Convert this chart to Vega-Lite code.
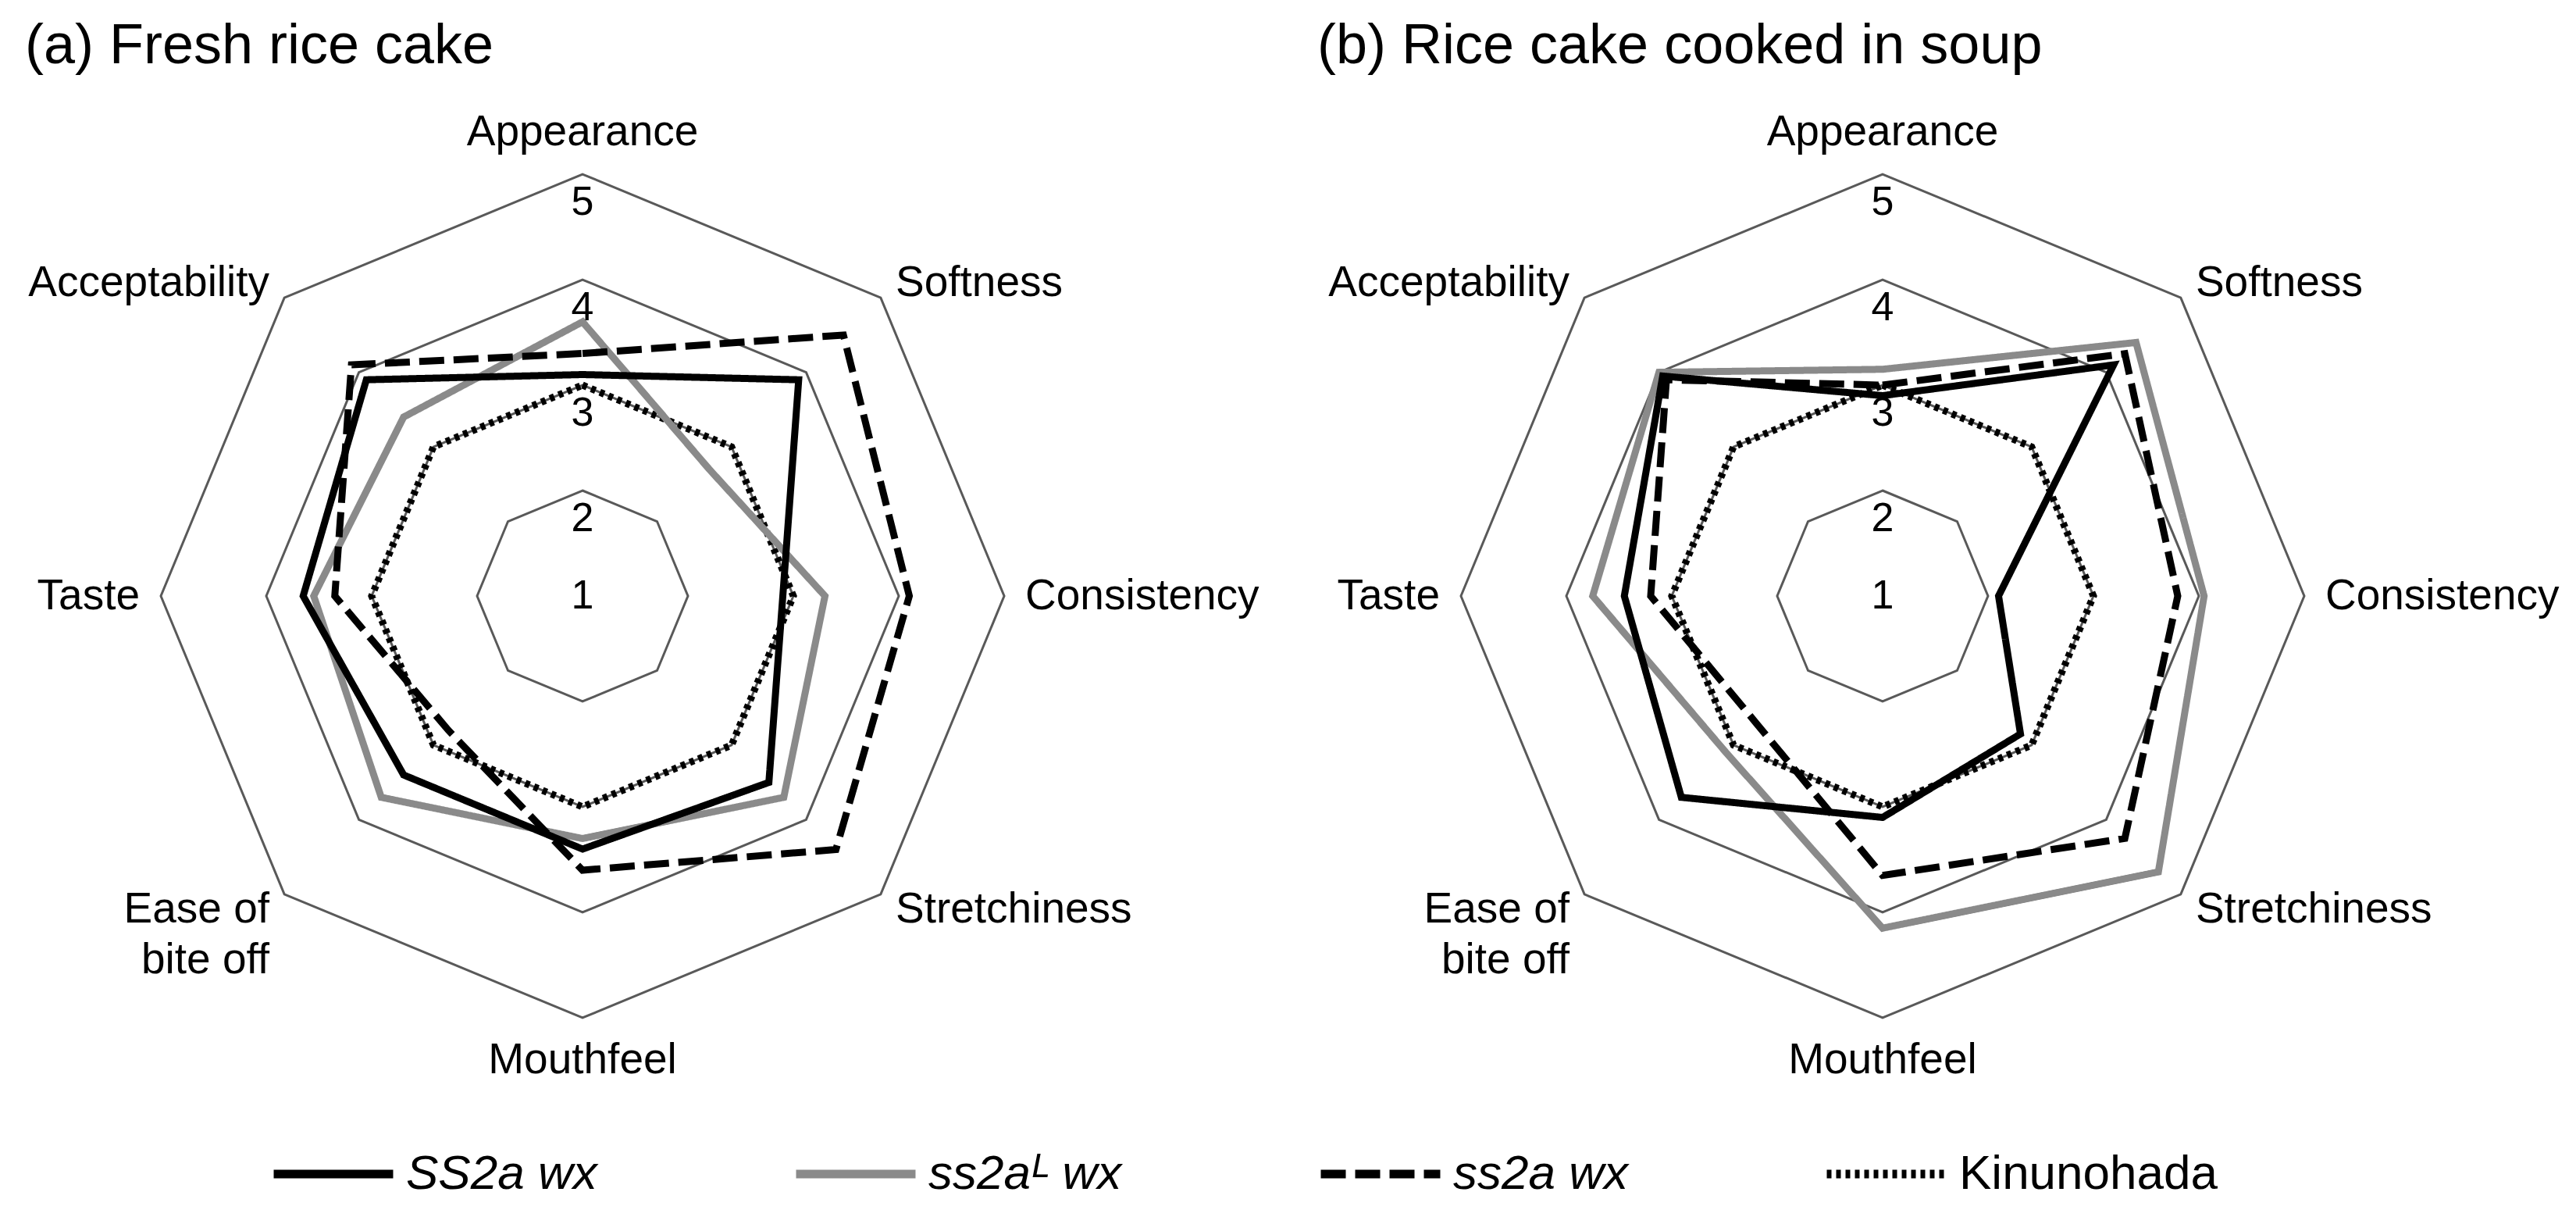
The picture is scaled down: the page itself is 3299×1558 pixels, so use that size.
{
  "$schema": "https://vega.github.io/schema/vega-lite/v6.json",
  "padding": 0,
  "autosize": {"type": "pad"},
  "spacing": 0,
  "config": {"view": {"stroke": null}, "font": "Liberation Sans", "concat": {"spacing": 0}},
  "resolve": {"scale": {"x": "independent", "y": "independent", "color": "shared", "strokeDash": "shared"}},
  "datasets": {
    "attrs": [
      {"attr": "Appearance", "idx": 0, "label": "Appearance"},
      {"attr": "Softness", "idx": 1, "label": "Softness"},
      {"attr": "Consistency", "idx": 2, "label": "Consistency"},
      {"attr": "Stretchiness", "idx": 3, "label": "Stretchiness"},
      {"attr": "Mouthfeel", "idx": 4, "label": "Mouthfeel"},
      {"attr": "Ease of bite off", "idx": 5, "label": "Ease of\nbite off"},
      {"attr": "Taste", "idx": 6, "label": "Taste"},
      {"attr": "Acceptability", "idx": 7, "label": "Acceptability"}
    ],
    "rings": [
      {"level": 2, "spokes": [0, 1, 2, 3, 4, 5, 6, 7]},
      {"level": 3, "spokes": [0, 1, 2, 3, 4, 5, 6, 7]},
      {"level": 4, "spokes": [0, 1, 2, 3, 4, 5, 6, 7]},
      {"level": 5, "spokes": [0, 1, 2, 3, 4, 5, 6, 7]}
    ],
    "ticks": [{"level": 1}, {"level": 2}, {"level": 3}, {"level": 4}, {"level": 5}],
    "scores": [
      {"panel": "a", "attr": "Appearance", "variety": "Kinunohada", "score": 3},
      {"panel": "a", "attr": "Softness", "variety": "Kinunohada", "score": 3},
      {"panel": "a", "attr": "Consistency", "variety": "Kinunohada", "score": 3},
      {"panel": "a", "attr": "Stretchiness", "variety": "Kinunohada", "score": 3},
      {"panel": "a", "attr": "Mouthfeel", "variety": "Kinunohada", "score": 3},
      {"panel": "a", "attr": "Ease of bite off", "variety": "Kinunohada", "score": 3},
      {"panel": "a", "attr": "Taste", "variety": "Kinunohada", "score": 3},
      {"panel": "a", "attr": "Acceptability", "variety": "Kinunohada", "score": 3},
      {"panel": "a", "attr": "Appearance", "variety": "ss2aᴸ wx", "score": 3.6},
      {"panel": "a", "attr": "Softness", "variety": "ss2aᴸ wx", "score": 2.7},
      {"panel": "a", "attr": "Consistency", "variety": "ss2aᴸ wx", "score": 3.3},
      {"panel": "a", "attr": "Stretchiness", "variety": "ss2aᴸ wx", "score": 3.7},
      {"panel": "a", "attr": "Mouthfeel", "variety": "ss2aᴸ wx", "score": 3.3},
      {"panel": "a", "attr": "Ease of bite off", "variety": "ss2aᴸ wx", "score": 3.7},
      {"panel": "a", "attr": "Taste", "variety": "ss2aᴸ wx", "score": 3.55},
      {"panel": "a", "attr": "Acceptability", "variety": "ss2aᴸ wx", "score": 3.4},
      {"panel": "a", "attr": "Appearance", "variety": "SS2a wx", "score": 3.1},
      {"panel": "a", "attr": "Softness", "variety": "SS2a wx", "score": 3.9},
      {"panel": "a", "attr": "Consistency", "variety": "SS2a wx", "score": 2.9},
      {"panel": "a", "attr": "Stretchiness", "variety": "SS2a wx", "score": 3.5},
      {"panel": "a", "attr": "Mouthfeel", "variety": "SS2a wx", "score": 3.4},
      {"panel": "a", "attr": "Ease of bite off", "variety": "SS2a wx", "score": 3.4},
      {"panel": "a", "attr": "Taste", "variety": "SS2a wx", "score": 3.65},
      {"panel": "a", "attr": "Acceptability", "variety": "SS2a wx", "score": 3.9},
      {"panel": "a", "attr": "Appearance", "variety": "ss2a wx", "score": 3.3},
      {"panel": "a", "attr": "Softness", "variety": "ss2a wx", "score": 4.5},
      {"panel": "a", "attr": "Consistency", "variety": "ss2a wx", "score": 4.1},
      {"panel": "a", "attr": "Stretchiness", "variety": "ss2a wx", "score": 4.4},
      {"panel": "a", "attr": "Mouthfeel", "variety": "ss2a wx", "score": 3.6},
      {"panel": "a", "attr": "Ease of bite off", "variety": "ss2a wx", "score": 2.8},
      {"panel": "a", "attr": "Taste", "variety": "ss2a wx", "score": 3.35},
      {"panel": "a", "attr": "Acceptability", "variety": "ss2a wx", "score": 4.1},
      {"panel": "b", "attr": "Appearance", "variety": "Kinunohada", "score": 3},
      {"panel": "b", "attr": "Softness", "variety": "Kinunohada", "score": 3},
      {"panel": "b", "attr": "Consistency", "variety": "Kinunohada", "score": 3},
      {"panel": "b", "attr": "Stretchiness", "variety": "Kinunohada", "score": 3},
      {"panel": "b", "attr": "Mouthfeel", "variety": "Kinunohada", "score": 3},
      {"panel": "b", "attr": "Ease of bite off", "variety": "Kinunohada", "score": 3},
      {"panel": "b", "attr": "Taste", "variety": "Kinunohada", "score": 3},
      {"panel": "b", "attr": "Acceptability", "variety": "Kinunohada", "score": 3},
      {"panel": "b", "attr": "Appearance", "variety": "ss2aᴸ wx", "score": 3.15},
      {"panel": "b", "attr": "Softness", "variety": "ss2aᴸ wx", "score": 4.4},
      {"panel": "b", "attr": "Consistency", "variety": "ss2aᴸ wx", "score": 4.05},
      {"panel": "b", "attr": "Stretchiness", "variety": "ss2aᴸ wx", "score": 4.7},
      {"panel": "b", "attr": "Mouthfeel", "variety": "ss2aᴸ wx", "score": 4.15},
      {"panel": "b", "attr": "Ease of bite off", "variety": "ss2aᴸ wx", "score": 3.1},
      {"panel": "b", "attr": "Taste", "variety": "ss2aᴸ wx", "score": 3.75},
      {"panel": "b", "attr": "Acceptability", "variety": "ss2aᴸ wx", "score": 4.0},
      {"panel": "b", "attr": "Appearance", "variety": "ss2a wx", "score": 3.0},
      {"panel": "b", "attr": "Softness", "variety": "ss2a wx", "score": 4.25},
      {"panel": "b", "attr": "Consistency", "variety": "ss2a wx", "score": 3.8},
      {"panel": "b", "attr": "Stretchiness", "variety": "ss2a wx", "score": 4.25},
      {"panel": "b", "attr": "Mouthfeel", "variety": "ss2a wx", "score": 3.65},
      {"panel": "b", "attr": "Ease of bite off", "variety": "ss2a wx", "score": 2.7},
      {"panel": "b", "attr": "Taste", "variety": "ss2a wx", "score": 3.2},
      {"panel": "b", "attr": "Acceptability", "variety": "ss2a wx", "score": 3.9},
      {"panel": "b", "attr": "Appearance", "variety": "SS2a wx", "score": 2.9},
      {"panel": "b", "attr": "Softness", "variety": "SS2a wx", "score": 4.1},
      {"panel": "b", "attr": "Consistency", "variety": "SS2a wx", "score": 2.1},
      {"panel": "b", "attr": "Stretchiness", "variety": "SS2a wx", "score": 2.85},
      {"panel": "b", "attr": "Mouthfeel", "variety": "SS2a wx", "score": 3.1},
      {"panel": "b", "attr": "Ease of bite off", "variety": "SS2a wx", "score": 3.7},
      {"panel": "b", "attr": "Taste", "variety": "SS2a wx", "score": 3.45},
      {"panel": "b", "attr": "Acceptability", "variety": "SS2a wx", "score": 3.95}
    ]
  },
  "hconcat": [
    {
      "width": 1650,
      "height": 1558,
      "title": {"text": "(a) Fresh rice cake", "anchor": "start", "frame": "group", "fontSize": 72, "fontWeight": "normal", "font": "Liberation Sans", "color": "#000000", "offset": -153, "baseline": "alphabetic", "dx": 32},
      "layer": [
        {
          "data": {"name": "rings"},
          "transform": [
            {"flatten": ["spokes"], "as": ["idx"]},
            {"calculate": "(datum.level - 1) * sin(datum.idx * PI / 4)", "as": "x"},
            {"calculate": "(datum.level - 1) * cos(datum.idx * PI / 4)", "as": "y"}
          ],
          "mark": {"type": "line", "interpolate": "linear-closed", "stroke": "#595959", "strokeWidth": 3},
          "encoding": {
            "x": {"field": "x", "type": "quantitative", "scale": {"domain": [-5.526, 6.696], "nice": false, "zero": false}, "axis": null},
            "y": {"field": "y", "type": "quantitative", "scale": {"domain": [-5.889, 5.652], "nice": false, "zero": false}, "axis": null},
            "detail": {"field": "level", "type": "nominal"},
            "order": {"field": "idx", "type": "quantitative"}
          }
        },
        {
          "data": {"name": "scores"},
          "transform": [
            {"filter": "datum.panel === 'a'"},
            {"lookup": "attr", "from": {"data": {"name": "attrs"}, "key": "attr", "fields": ["idx"]}},
            {"calculate": "(datum.score - 1) * sin(datum.idx * PI / 4)", "as": "x"},
            {"calculate": "(datum.score - 1) * cos(datum.idx * PI / 4)", "as": "y"}
          ],
          "mark": {"type": "line", "interpolate": "linear-closed", "strokeWidth": 9, "strokeJoin": "miter"},
          "encoding": {
            "x": {"field": "x", "type": "quantitative", "scale": {"domain": [-5.526, 6.696], "nice": false, "zero": false}, "axis": null},
            "y": {"field": "y", "type": "quantitative", "scale": {"domain": [-5.889, 5.652], "nice": false, "zero": false}, "axis": null},
            "color": {"field": "variety", "type": "nominal", "scale": {"domain": ["SS2a wx", "ss2aᴸ wx", "ss2a wx", "Kinunohada"], "range": ["#000000", "#8a8a8a", "#000000", "#000000"]},
              "legend": {"orient": "none", "legendX": 345, "legendY": 1421, "direction": "horizontal", "columns": 4, "title": null, "symbolType": "stroke", "symbolSize": 23400, "symbolStrokeWidth": 11, "labelFontSize": 62, "labelFont": "Liberation Sans", "labelColor": "#000000", "labelOffset": 11, "columnPadding": 232, "labelLimit": 600, "padding": 0,
                "encode": {"labels": {"update": {"fontStyle": {"signal": "datum.label === 'Kinunohada' ? 'normal' : 'italic'"}}}}}},
            "strokeDash": {"field": "variety", "type": "nominal", "scale": {"domain": ["SS2a wx", "ss2aᴸ wx", "ss2a wx", "Kinunohada"], "range": [[1, 0], [1, 0], [32, 12], [6, 6]]},
              "legend": {"orient": "none", "legendX": 345, "legendY": 1421, "direction": "horizontal", "columns": 4, "title": null, "symbolType": "stroke", "symbolSize": 23400, "symbolStrokeWidth": 11, "labelFontSize": 62, "labelFont": "Liberation Sans", "labelColor": "#000000", "labelOffset": 11, "columnPadding": 232, "labelLimit": 600, "padding": 0,
                "encode": {"labels": {"update": {"fontStyle": {"signal": "datum.label === 'Kinunohada' ? 'normal' : 'italic'"}}}}}},
            "order": {"field": "idx", "type": "quantitative"}
          }
        },
        {
          "data": {"name": "ticks"},
          "transform": [
            {"calculate": "datum.level == 1 ? 0 : datum.level - 1.265", "as": "y"},
            {"calculate": "0", "as": "x"}
          ],
          "mark": {"type": "text", "fontSize": 52, "baseline": "middle", "align": "center", "color": "#000000"},
          "encoding": {
            "x": {"field": "x", "type": "quantitative", "scale": {"domain": [-5.526, 6.696], "nice": false, "zero": false}, "axis": null},
            "y": {"field": "y", "type": "quantitative", "scale": {"domain": [-5.889, 5.652], "nice": false, "zero": false}, "axis": null},
            "text": {"field": "level", "type": "nominal"}
          }
        },
        {
          "data": {"name": "attrs"},
          "transform": [
            {"filter": "datum.idx == 0 || datum.idx == 4"},
            {"calculate": "4.4 * sin(datum.idx * PI / 4)", "as": "x"},
            {"calculate": "4.4 * cos(datum.idx * PI / 4)", "as": "y"}
          ],
          "mark": {"type": "text", "fontSize": 55, "baseline": "middle", "align": "center", "color": "#000000"},
          "encoding": {
            "x": {"field": "x", "type": "quantitative", "scale": {"domain": [-5.526, 6.696], "nice": false, "zero": false}, "axis": null},
            "y": {"field": "y", "type": "quantitative", "scale": {"domain": [-5.889, 5.652], "nice": false, "zero": false}, "axis": null},
            "text": {"field": "label", "type": "nominal"}
          }
        },
        {
          "data": {"name": "attrs"},
          "transform": [
            {"filter": "datum.idx >= 1 && datum.idx <= 3"},
            {"calculate": "4.2 * sin(datum.idx * PI / 4)", "as": "x"},
            {"calculate": "4.2 * cos(datum.idx * PI / 4)", "as": "y"}
          ],
          "mark": {"type": "text", "fontSize": 55, "baseline": "middle", "align": "left", "color": "#000000"},
          "encoding": {
            "x": {"field": "x", "type": "quantitative", "scale": {"domain": [-5.526, 6.696], "nice": false, "zero": false}, "axis": null},
            "y": {"field": "y", "type": "quantitative", "scale": {"domain": [-5.889, 5.652], "nice": false, "zero": false}, "axis": null},
            "text": {"field": "label", "type": "nominal"}
          }
        },
        {
          "data": {"name": "attrs"},
          "transform": [
            {"filter": "datum.idx >= 5"},
            {"calculate": "4.2 * sin(datum.idx * PI / 4)", "as": "x"},
            {"calculate": "4.2 * cos(datum.idx * PI / 4)", "as": "y"}
          ],
          "mark": {"type": "text", "fontSize": 55, "baseline": "middle", "align": "right", "color": "#000000", "lineBreak": "\n", "lineHeight": 65},
          "encoding": {
            "x": {"field": "x", "type": "quantitative", "scale": {"domain": [-5.526, 6.696], "nice": false, "zero": false}, "axis": null},
            "y": {"field": "y", "type": "quantitative", "scale": {"domain": [-5.889, 5.652], "nice": false, "zero": false}, "axis": null},
            "text": {"field": "label", "type": "nominal"}
          }
        }
      ]
    },
    {
      "width": 1649,
      "height": 1558,
      "title": {"text": "(b) Rice cake cooked in soup", "anchor": "start", "frame": "group", "fontSize": 72, "fontWeight": "normal", "font": "Liberation Sans", "color": "#000000", "offset": -153, "baseline": "alphabetic", "dx": 37},
      "layer": [
        {
          "data": {"name": "rings"},
          "transform": [
            {"flatten": ["spokes"], "as": ["idx"]},
            {"calculate": "(datum.level - 1) * sin(datum.idx * PI / 4)", "as": "x"},
            {"calculate": "(datum.level - 1) * cos(datum.idx * PI / 4)", "as": "y"}
          ],
          "mark": {"type": "line", "interpolate": "linear-closed", "stroke": "#595959", "strokeWidth": 3},
          "encoding": {
            "x": {"field": "x", "type": "quantitative", "scale": {"domain": [-5.637, 6.578], "nice": false, "zero": false}, "axis": null},
            "y": {"field": "y", "type": "quantitative", "scale": {"domain": [-5.889, 5.652], "nice": false, "zero": false}, "axis": null},
            "detail": {"field": "level", "type": "nominal"},
            "order": {"field": "idx", "type": "quantitative"}
          }
        },
        {
          "data": {"name": "scores"},
          "transform": [
            {"filter": "datum.panel === 'b'"},
            {"lookup": "attr", "from": {"data": {"name": "attrs"}, "key": "attr", "fields": ["idx"]}},
            {"calculate": "(datum.score - 1) * sin(datum.idx * PI / 4)", "as": "x"},
            {"calculate": "(datum.score - 1) * cos(datum.idx * PI / 4)", "as": "y"}
          ],
          "mark": {"type": "line", "interpolate": "linear-closed", "strokeWidth": 9, "strokeJoin": "miter"},
          "encoding": {
            "x": {"field": "x", "type": "quantitative", "scale": {"domain": [-5.637, 6.578], "nice": false, "zero": false}, "axis": null},
            "y": {"field": "y", "type": "quantitative", "scale": {"domain": [-5.889, 5.652], "nice": false, "zero": false}, "axis": null},
            "color": {"field": "variety", "type": "nominal", "scale": {"domain": ["SS2a wx", "ss2aᴸ wx", "ss2a wx", "Kinunohada"], "range": ["#000000", "#8a8a8a", "#000000", "#000000"]},
              "legend": {"orient": "none", "legendX": 345, "legendY": 1421, "direction": "horizontal", "columns": 4, "title": null, "symbolType": "stroke", "symbolSize": 23400, "symbolStrokeWidth": 11, "labelFontSize": 62, "labelFont": "Liberation Sans", "labelColor": "#000000", "labelOffset": 11, "columnPadding": 232, "labelLimit": 600, "padding": 0,
                "encode": {"labels": {"update": {"fontStyle": {"signal": "datum.label === 'Kinunohada' ? 'normal' : 'italic'"}}}}}},
            "strokeDash": {"field": "variety", "type": "nominal", "scale": {"domain": ["SS2a wx", "ss2aᴸ wx", "ss2a wx", "Kinunohada"], "range": [[1, 0], [1, 0], [32, 12], [6, 6]]},
              "legend": {"orient": "none", "legendX": 345, "legendY": 1421, "direction": "horizontal", "columns": 4, "title": null, "symbolType": "stroke", "symbolSize": 23400, "symbolStrokeWidth": 11, "labelFontSize": 62, "labelFont": "Liberation Sans", "labelColor": "#000000", "labelOffset": 11, "columnPadding": 232, "labelLimit": 600, "padding": 0,
                "encode": {"labels": {"update": {"fontStyle": {"signal": "datum.label === 'Kinunohada' ? 'normal' : 'italic'"}}}}}},
            "order": {"field": "idx", "type": "quantitative"}
          }
        },
        {
          "data": {"name": "ticks"},
          "transform": [
            {"calculate": "datum.level == 1 ? 0 : datum.level - 1.265", "as": "y"},
            {"calculate": "0", "as": "x"}
          ],
          "mark": {"type": "text", "fontSize": 52, "baseline": "middle", "align": "center", "color": "#000000"},
          "encoding": {
            "x": {"field": "x", "type": "quantitative", "scale": {"domain": [-5.637, 6.578], "nice": false, "zero": false}, "axis": null},
            "y": {"field": "y", "type": "quantitative", "scale": {"domain": [-5.889, 5.652], "nice": false, "zero": false}, "axis": null},
            "text": {"field": "level", "type": "nominal"}
          }
        },
        {
          "data": {"name": "attrs"},
          "transform": [
            {"filter": "datum.idx == 0 || datum.idx == 4"},
            {"calculate": "4.4 * sin(datum.idx * PI / 4)", "as": "x"},
            {"calculate": "4.4 * cos(datum.idx * PI / 4)", "as": "y"}
          ],
          "mark": {"type": "text", "fontSize": 55, "baseline": "middle", "align": "center", "color": "#000000"},
          "encoding": {
            "x": {"field": "x", "type": "quantitative", "scale": {"domain": [-5.637, 6.578], "nice": false, "zero": false}, "axis": null},
            "y": {"field": "y", "type": "quantitative", "scale": {"domain": [-5.889, 5.652], "nice": false, "zero": false}, "axis": null},
            "text": {"field": "label", "type": "nominal"}
          }
        },
        {
          "data": {"name": "attrs"},
          "transform": [
            {"filter": "datum.idx >= 1 && datum.idx <= 3"},
            {"calculate": "4.2 * sin(datum.idx * PI / 4)", "as": "x"},
            {"calculate": "4.2 * cos(datum.idx * PI / 4)", "as": "y"}
          ],
          "mark": {"type": "text", "fontSize": 55, "baseline": "middle", "align": "left", "color": "#000000"},
          "encoding": {
            "x": {"field": "x", "type": "quantitative", "scale": {"domain": [-5.637, 6.578], "nice": false, "zero": false}, "axis": null},
            "y": {"field": "y", "type": "quantitative", "scale": {"domain": [-5.889, 5.652], "nice": false, "zero": false}, "axis": null},
            "text": {"field": "label", "type": "nominal"}
          }
        },
        {
          "data": {"name": "attrs"},
          "transform": [
            {"filter": "datum.idx >= 5"},
            {"calculate": "4.2 * sin(datum.idx * PI / 4)", "as": "x"},
            {"calculate": "4.2 * cos(datum.idx * PI / 4)", "as": "y"}
          ],
          "mark": {"type": "text", "fontSize": 55, "baseline": "middle", "align": "right", "color": "#000000", "lineBreak": "\n", "lineHeight": 65},
          "encoding": {
            "x": {"field": "x", "type": "quantitative", "scale": {"domain": [-5.637, 6.578], "nice": false, "zero": false}, "axis": null},
            "y": {"field": "y", "type": "quantitative", "scale": {"domain": [-5.889, 5.652], "nice": false, "zero": false}, "axis": null},
            "text": {"field": "label", "type": "nominal"}
          }
        }
      ]
    }
  ]
}
